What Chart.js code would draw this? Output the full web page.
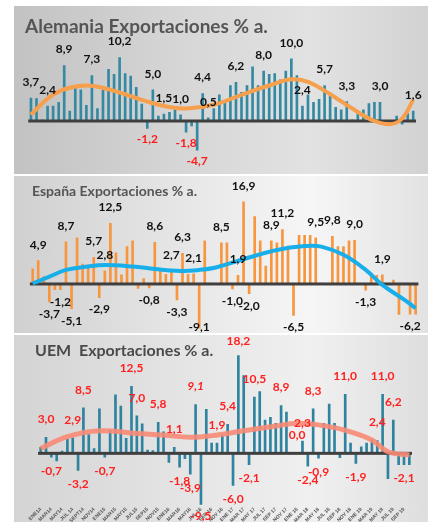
<!DOCTYPE html>
<html>
<head>
<meta charset="utf-8">
<script src="https://cdn.jsdelivr.net/npm/chart.js@4.4.1/dist/chart.umd.min.js"></script>
<style>
    body { margin: 0; background: #fff; width: 437px; height: 522px; position: relative; overflow: hidden; font-family: Lato, 'Open Sans', sans-serif; }
    .panel { position: absolute; left: 14px; width: 414px; }
    .panel canvas { position: absolute; left: 0; top: 0; }
    .ttl { position: absolute; font-weight: bold; color: #555; white-space: pre; line-height: 1; z-index: 2; }
    #p1 { top: 6px; height: 168px; background: linear-gradient(90deg, #c2c2c2 0%, #d6d6d6 40%, #e2e2e2 72%, #d2d2d2 100%); }
    #p2 { top: 176px; height: 157px; background: linear-gradient(90deg, #d0d0d0 0%, #e6e6e6 40%, #f6f6f6 72%, #e2e2e2 100%); }
    #p3 { top: 335px; height: 187px; background: linear-gradient(90deg, #d4d4d4 0%, #e4e4e4 40%, #f0f0f0 72%, #dedede 100%); }
</style>
</head>
<body>
<div class="panel" id="p1">
    <div class="ttl" style="left:11px;top:10px;font-size:19px">Alemania Exportaciones % a.</div>
    <canvas id="deChart" width="414" height="168"></canvas>
</div>
<div class="panel" id="p2">
    <div class="ttl" style="left:18px;top:8px;font-size:14px">España Exportaciones % a.</div>
    <canvas id="esChart" width="414" height="157"></canvas>
</div>
<div class="panel" id="p3">
    <div class="ttl" style="left:21px;top:7px;font-size:16px;color:#4a4a4a">UEM  Exportaciones % a.</div>
    <canvas id="uemChart" width="414" height="187"></canvas>
</div>

<script>
// meses ENE14 .. OCT19
const years = ['14', '15', '16', '17', '18', '19'];
const monthAbbr = ['ENE', 'FEB', 'MAR', 'ABR', 'MAY', 'JUN', 'JUL', 'AGO', 'SEP', 'OCT', 'NOV', 'DIC'];
const months = [];
years.forEach(y => monthAbbr.forEach(m => months.push(m + y)));
months.length = 70;

// etiquetas del eje (cada 2 meses)
const xTicks = ['ENE14', 'MAR14', 'MAY14', 'JUL 14', 'SEPT14', 'NOV14', 'ENE15', 'MAR15', 'MAY15', 'JUL15',
    'SEP15', 'NOV15', 'ENE16', 'MAR16', 'MAY16', 'JUL 16', 'SEP 16', 'NOV 16', 'ENE 17', 'MAR 17',
    'MAY 17', 'JUL 17', 'SEP 17', 'NOV 17', 'ENE 18', 'MAR 18', 'MAY 18', 'JUL 18', 'SEP 18', 'NOV 18',
    'ENE 19', 'MAR 19', 'MAY 19', 'JUL 19', 'SEP 19'];

//*** Alemania
const deValues = [3.7, 3.6, 0.2, 2.4, 2.4, 3.0, 8.9, 1.6, 5.2, 5.0,
    2.5, 7.3, 2.0, 5.0, 8.3, 7.5, 10.2, 7.6, 7.2, 5.4,
    2.7, -1.2, 5.0, 0.8, 1.1, 1.4, 2.0, 1.0, -1.8, -0.8,
    -4.7, 4.4, 0.5, 2.0, 4.2, 3.0, 5.7, 6.2, 4.6, 5.7,
    8.7, 5.7, 8.0, 7.5, 7.6, 6.6, 8.0, 10.0, 7.3, 2.4,
    4.2, 3.0, 3.5, 5.7, 4.5, 2.2, 1.8, 3.1, 0.2, 1.4,
    1.8, 2.8, 3.0, 3.0, 0.1, 0.0, 0.8, -0.5, 1.2, 1.6];
const deTrendIdx = [0, 3, 6, 10, 14, 20, 24, 28, 33, 38, 43, 47, 50, 54, 58, 62, 65, 67, 69];
const deTrendVal = [1.0, 3.6, 5.1, 5.7, 5.1, 3.4, 2.4, 2.0, 2.6, 4.2, 5.7, 6.7, 6.3, 4.3, 2.0, 0.0, -0.5, 0.4, 3.4];
const deLabelIdx = [0, 3, 6, 11, 16, 21, 22, 24, 27, 28, 30, 31, 32, 37, 42, 47, 49, 53, 57, 63, 69];
const deLabelTxt = ['3,7', '2,4', '8,9', '7,3', '10,2', '-1,2', '5,0', '1,5', '1,0', '-1,8', '-4,7',
    '4,4', '0,5', '6,2', '8,0', '10,0', '2,4', '5,7', '3,3', '3,0', '1,6'];

//*** España
const esValues = [3.1, 4.8, 1.5, -3.7, -1.2, -1.2, 8.7, -5.1, 9.5, 4.1,
    3.2, 5.5, -2.8, 2.7, 12.5, 6.4, 1.9, 7.7, 8.9, -0.9,
    1.1, -0.8, 8.6, 2.9, 2.0, 2.7, -3.3, 6.3, 2.0, 2.1,
    -9.1, 8.9, 0.2, 0.1, 8.5, 8.5, -1.0, 1.8, 16.9, -2.0,
    13.9, 8.9, 3.7, 8.9, 8.5, 11.2, 7.8, -6.5, 10.0, 10.0,
    10.0, 9.5, 0.2, 0.1, 9.8, 7.7, 7.7, 8.9, 9.0, 0.1,
    -1.3, 1.6, 1.8, 1.9, 0.1, 0.8, -6.3, 0.1, -6.2, -6.2];
const esTrendIdx = [0, 3, 6, 10, 13, 18, 22, 26, 30, 33, 38, 44, 49, 52, 56, 60, 63, 67, 69];
const esTrendVal = [0.1, 1.5, 2.9, 3.6, 3.9, 3.6, 3.1, 2.7, 2.9, 3.4, 5.1, 7.0, 7.8, 7.7, 6.0, 2.9, -0.2, -3.3, -5.0];
const esLabelIdx = [1, 3, 5, 6, 7, 11, 13, 14, 12, 21, 22, 25, 27, 26, 29, 30, 34, 37, 38, 36, 39,
    43, 45, 47, 51, 54, 58, 60, 63, 68];
const esLabelTxt = ['4,9', '-3,7', '-1,2', '8,7', '-5,1', '5,7', '2,8', '12,5', '-2,9', '-0,8', '8,6',
    '2,7', '6,3', '-3,3', '2,1', '-9,1', '8,5', '1,9', '16,9', '-1,0', '-2,0',
    '8,9', '11,2', '-6,5', '9,5', '9,8', '9,0', '-1,3', '1,9', '-6,2'];

//*** UEM
const uemValues = [1.1, 3.0, -0.7, -1.4, 0.4, 2.6, 2.9, -3.2, 8.5, 3.5,
    0.9, 8.3, -0.7, 4.3, 10.9, 8.8, 2.8, 12.5, 7.0, 5.5,
    0.6, 0.5, 5.8, 4.0, -1.7, 1.1, -2.6, -1.0, -3.9, 9.1,
    -9.5, 8.2, 1.9, 1.9, 3.5, 5.4, -6.0, 18.2, 14.5, -2.1,
    10.5, 11.5, 6.2, 6.7, 5.6, 8.9, 7.7, 0.1, 0.0, 2.3,
    -2.4, 8.3, -0.9, 5.6, 9.2, 5.6, -0.8, 11.0, 1.9, -1.9,
    1.2, 1.9, 2.5, 2.4, 11.0, -4.7, 6.2, -2.1, -2.1, -2.1];
const uemTrendIdx = [0, 5, 11, 18, 23, 28, 32, 38, 44, 48, 52, 57, 62, 65, 69];
const uemTrendVal = [0.9, 3.1, 4.2, 3.7, 3.4, 3.0, 3.3, 4.2, 5.1, 5.6, 5.3, 4.3, 2.5, 0.3, -0.3];
const uemLabelIdx = [1, 2, 6, 7, 8, 12, 17, 18, 22, 25, 26, 28, 29, 30, 33, 35, 36, 37, 39, 40,
    45, 48, 49, 50, 51, 52, 57, 59, 63, 64, 66, 68];
const uemLabelTxt = ['3,0', '-0,7', '2,9', '-3,2', '8,5', '-0,7', '12,5', '7,0', '5,8', '1,1', '-1,8',
    '-3,9', '9,1', '-9,5', '1,9', '5,4', '-6,0', '18,2', '-2,1', '10,5',
    '8,9', '0,0', '2,3', '-2,4', '8,3', '-0,9', '11,0', '-1,9', '2,4', '11,0', '6,2', '-2,1'];
const uemItalic = [29];

// linea gruesa del cero
const zeroLine = {
    id: 'zeroLine',
    afterDatasetDraw(chart, args) {
        if (args.index !== 0) return;
        const ctx = chart.ctx;
        const a = chart.chartArea;
        const y = chart.scales.y.getPixelForValue(0);
        ctx.save();
        ctx.fillStyle = '#3f3f3f';
        ctx.fillRect(a.left, y - 1.5, a.right - a.left, 3);
        ctx.restore();
    }
};

// etiquetas de valores
const valueLabels = {
    id: 'valueLabels',
    afterDraw(chart, args, opts) {
        const meta = chart.getDatasetMeta(0);
        const ctx = chart.ctx;
        ctx.save();
        ctx.textAlign = 'center';
        ctx.textBaseline = 'middle';
        opts.idx.forEach((i, k) => {
            const bar = meta.data[i];
            const txt = opts.txt[k];
            const neg = txt.charAt(0) === '-';
            let y = neg ? Math.max(bar.y, bar.base) + opts.below : Math.min(bar.y, bar.base) - opts.above;
            y = Math.max(6, Math.min(y, chart.height - 6));
            const it = opts.italic && opts.italic.indexOf(i) >= 0;
            ctx.font = (it ? 'italic ' : '') + 'bold 12px Lato, "Open Sans", sans-serif';
            ctx.fillStyle = neg ? opts.negColor : opts.posColor;
            ctx.fillText(txt, bar.x, y);
        });
        ctx.restore();
    }
};

function makeChart(id, cfg) {
    const trend = cfg.trendIdx.map((i, k) => ({ x: months[i], y: cfg.trendVal[k] }));
    return new Chart(document.getElementById(id), {
        type: 'bar',
        data: {
            labels: months,
            datasets: [{
                data: cfg.values,
                backgroundColor: cfg.barColor,
                barThickness: 2,
                order: 1
            },
            {
                type: 'line',
                data: trend,
                borderColor: cfg.lineColor,
                borderWidth: cfg.lineWidth,
                pointRadius: 0,
                tension: 0.4,
                fill: false,
                order: 0
            }]
        },
        options: {
            responsive: false,
            animation: false,
            layout: { padding: cfg.padding },
            scales: {
                x: cfg.xAxis,
                y: { display: false, min: cfg.min, max: cfg.max }
            },
            plugins: {
                legend: { display: false },
                tooltip: { enabled: false },
                valueLabels: {
                    idx: cfg.labelIdx,
                    txt: cfg.labelTxt,
                    italic: cfg.italic || [],
                    posColor: cfg.posColor,
                    negColor: cfg.negColor,
                    above: cfg.above,
                    below: cfg.below
                }
            }
        },
        plugins: [zeroLine, valueLabels]
    });
}

makeChart('deChart', {
    values: deValues, trendIdx: deTrendIdx, trendVal: deTrendVal,
    labelIdx: deLabelIdx, labelTxt: deLabelTxt,
    barColor: '#3589a3', lineColor: '#f6a04d', lineWidth: 4,
    posColor: '#111', negColor: '#ff1a1a', above: 16, below: 11,
    min: -7, max: 11,
    padding: { left: 14.2, right: 12, top: 46.5, bottom: 9.4 },
    xAxis: { display: false }
});

makeChart('esChart', {
    values: esValues, trendIdx: esTrendIdx, trendVal: esTrendVal,
    labelIdx: esLabelIdx, labelTxt: esLabelTxt,
    barColor: '#f7963f', lineColor: '#18aeea', lineWidth: 4,
    posColor: '#111', negColor: '#111', above: 16, below: 12,
    min: -10, max: 18,
    padding: { left: 15.9, right: 9.6, top: 20.6, bottom: 0.5 },
    xAxis: { display: false }
});

makeChart('uemChart', {
    values: uemValues, trendIdx: uemTrendIdx, trendVal: uemTrendVal,
    labelIdx: uemLabelIdx, labelTxt: uemLabelTxt, italic: uemItalic,
    barColor: '#2f839e', lineColor: 'rgba(248,138,118,0.9)', lineWidth: 5,
    posColor: '#ff1f1f', negColor: '#ff1f1f', above: 18, below: 14,
    min: -9.7, max: 20,
    padding: { left: 24, right: 16, top: 11, bottom: 0 },
    xAxis: {
        display: true,
        grid: { display: false, drawTicks: false },
        border: { display: false },
        ticks: {
            autoSkip: false,
            minRotation: 45,
            maxRotation: 45,
            padding: 1,
            color: '#555',
            font: { size: 5, weight: 'bold', family: 'Liberation Sans' },
            callback: (v, i) => (i % 2 === 0 ? xTicks[i / 2] : '')
        },
        afterFit: (s) => { s.height = 16.6; }
    }
});
</script>
</body>
</html>
